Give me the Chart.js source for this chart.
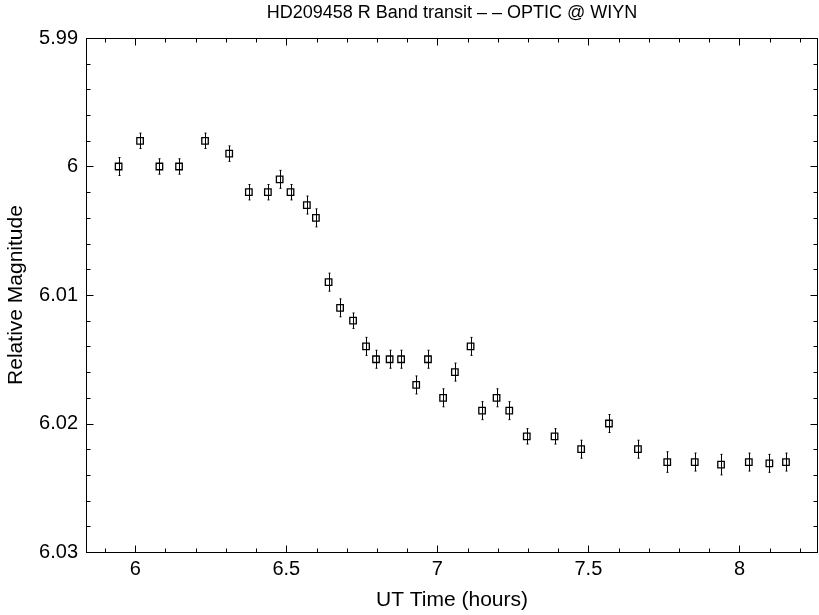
<!DOCTYPE html>
<html>
<head>
<meta charset="utf-8">
<script src="https://cdn.jsdelivr.net/npm/chart.js@4"></script>
<style>
  html, body { margin: 0; padding: 0; background: #fff; }
  #wrap { width: 819px; height: 615px; }
</style>
</head>
<body>
<div id="wrap"><canvas id="c" width="819" height="615"></canvas></div>
<script>
// Data
const utTime = [5.945, 6.016, 6.080, 6.145, 6.231, 6.311, 6.376, 6.439, 6.478, 6.514,
                6.568, 6.598, 6.640, 6.678, 6.721, 6.764, 6.797, 6.842, 6.880, 6.930,
                6.969, 7.019, 7.058, 7.110, 7.148, 7.196, 7.238, 7.296, 7.388, 7.476,
                7.568, 7.664, 7.761, 7.852, 7.939, 8.031, 8.099, 8.154];
const relMag = [6.000, 5.998, 6.000, 6.000, 5.998, 5.999, 6.002, 6.002, 6.001, 6.002,
                6.003, 6.004, 6.009, 6.011, 6.012, 6.014, 6.015, 6.015, 6.015, 6.017,
                6.015, 6.018, 6.016, 6.014, 6.019, 6.018, 6.019, 6.021, 6.021, 6.022,
                6.020, 6.022, 6.023, 6.023, 6.0232, 6.023, 6.0231, 6.023];
const magErr = [0.0007, 0.0006, 0.0006, 0.0006, 0.0006, 0.0006, 0.0006, 0.0006, 0.0007, 0.0006,
                0.0007, 0.0007, 0.0007, 0.0007, 0.0006, 0.0007, 0.0007, 0.0007, 0.0007, 0.0007,
                0.0007, 0.0007, 0.0007, 0.0007, 0.0007, 0.0007, 0.0007, 0.0006, 0.0006, 0.0007,
                0.0007, 0.0007, 0.0008, 0.0007, 0.0008, 0.0007, 0.0007, 0.0007];
const xTickValues = [6, 6.5, 7, 7.5, 8];
const yTickValues = [5.99, 6.00, 6.01, 6.02, 6.03];
const xMinorStep = 0.1;
const yMinorStep = 0.002;

const titleText = 'HD209458 R Band transit \u2013 \u2013 OPTIC @ WIYN';
const xTitle = 'UT Time (hours)';
const yTitle = 'Relative Magnitude';

const FONT = "'Liberation Sans', Arial, Helvetica, sans-serif";

const points = utTime.map((x, i) => ({ x: x, y: relMag[i] }));

const framePlugin = {
  id: 'frameTicks',
  afterDatasetsDraw(chart) {
    const ctx = chart.ctx;
    const a = chart.chartArea;
    const xs = chart.scales.x, ys = chart.scales.y;
    ctx.save();
    // error bars
    ctx.strokeStyle = '#000';
    ctx.lineWidth = 1;
    for (let i = 0; i < utTime.length; i++) {
      const px = Math.round(xs.getPixelForValue(utTime[i])) + 0.5;
      const p1 = ys.getPixelForValue(relMag[i] - magErr[i]);
      const p2 = ys.getPixelForValue(relMag[i] + magErr[i]);
      ctx.beginPath();
      ctx.moveTo(px, p1); ctx.lineTo(px, p2);
      ctx.moveTo(px - 1, p1); ctx.lineTo(px + 1, p1);
      ctx.moveTo(px - 1, p2); ctx.lineTo(px + 1, p2);
      ctx.stroke();
    }
    // frame
    ctx.lineWidth = 1;
    const L = Math.round(a.left) + 0.5, R = Math.round(a.right) - 0.5;
    const T = Math.round(a.top) + 0.5, B = Math.round(a.bottom) + 0.5;
    ctx.strokeRect(L, T, R - L, B - T);
    // x ticks
    const xmin = xs.min, xmax = xs.max;
    const startX = Math.ceil(xmin / xMinorStep - 1e-6);
    for (let k = startX; k * xMinorStep <= xmax + 1e-9; k++) {
      const v = k * xMinorStep;
      const major = xTickValues.some(t => Math.abs(t - v) < 1e-6);
      const len = major ? 7 : 4;
      const px = Math.round(xs.getPixelForValue(v)) + 0.5;
      ctx.beginPath();
      ctx.moveTo(px, B); ctx.lineTo(px, B - len);
      ctx.moveTo(px, T); ctx.lineTo(px, T + len);
      ctx.stroke();
    }
    // y ticks
    const ymin = ys.min, ymax = ys.max;
    const startY = Math.ceil(ymin / yMinorStep - 1e-6);
    for (let k = startY; k * yMinorStep <= ymax + 1e-9; k++) {
      const v = k * yMinorStep;
      const major = yTickValues.some(t => Math.abs(t - v) < 1e-7);
      const len = major ? 7 : 4;
      const py = Math.round(ys.getPixelForValue(v)) + 0.5;
      ctx.beginPath();
      ctx.moveTo(L, py); ctx.lineTo(L + len, py);
      ctx.moveTo(R, py); ctx.lineTo(R - len, py);
      ctx.stroke();
    }
    ctx.restore();
  }
};

new Chart(document.getElementById('c'), {
  type: 'scatter',
  data: {
    datasets: [{
      data: points,
      pointStyle: 'rect',
      pointRadius: 4.6,
      pointBorderWidth: 1.3,
      pointBorderColor: '#000',
      pointBackgroundColor: 'rgba(0,0,0,0)',
      showLine: false
    }]
  },
  options: {
    responsive: false,
    animation: false,
    events: [],
    layout: { autoPadding: false, padding: { left: 0, right: 1, top: 0, bottom: 0 } },
    plugins: {
      legend: { display: false },
      tooltip: { enabled: false },
      title: {
        display: true,
        text: titleText,
        fullSize: false,
        color: '#000',
        font: { family: FONT, size: 18, weight: 'normal' },
        padding: { top: 2.5, bottom: 13.9 }
      }
    },
    scales: {
      x: {
        type: 'linear',
        min: 5.837,
        max: 8.26,
        grid: { display: false, drawTicks: true, tickLength: 5 },
        border: { display: false },
        afterFit(scale) {
          scale.height = 63; scale.paddingLeft = 0; scale.paddingRight = 0;
        },
        afterBuildTicks(scale) { scale.ticks = xTickValues.map(v => ({ value: v })); },
        ticks: {
          color: '#000',
          padding: 0,
          maxRotation: 0,
          autoSkip: false,
          font: { family: FONT, size: 20 },
          callback: (v) => String(parseFloat(Number(v).toFixed(2)))
        },
        title: {
          display: true,
          text: xTitle,
          color: '#000',
          font: { family: FONT, size: 21 },
          padding: { top: 0, bottom: 2.5 }
        }
      },
      y: {
        type: 'linear',
        reverse: true,
        min: 5.99,
        max: 6.03,
        grid: { display: false, drawTicks: false },
        border: { display: false },
        afterFit(scale) { scale.width = 86; scale.paddingTop = 0; scale.paddingBottom = 0; },
        afterBuildTicks(scale) { scale.ticks = yTickValues.map(v => ({ value: v })); },
        ticks: {
          color: '#000',
          padding: 8,
          autoSkip: false,
          font: { family: FONT, size: 20 },
          callback: (v) => String(parseFloat(Number(v).toFixed(2)))
        },
        title: {
          display: true,
          text: yTitle,
          color: '#000',
          font: { family: FONT, size: 21 },
          padding: { top: 3.4, bottom: 0 }
        }
      }
    }
  },
  plugins: [framePlugin]
});
</script>
</body>
</html>
